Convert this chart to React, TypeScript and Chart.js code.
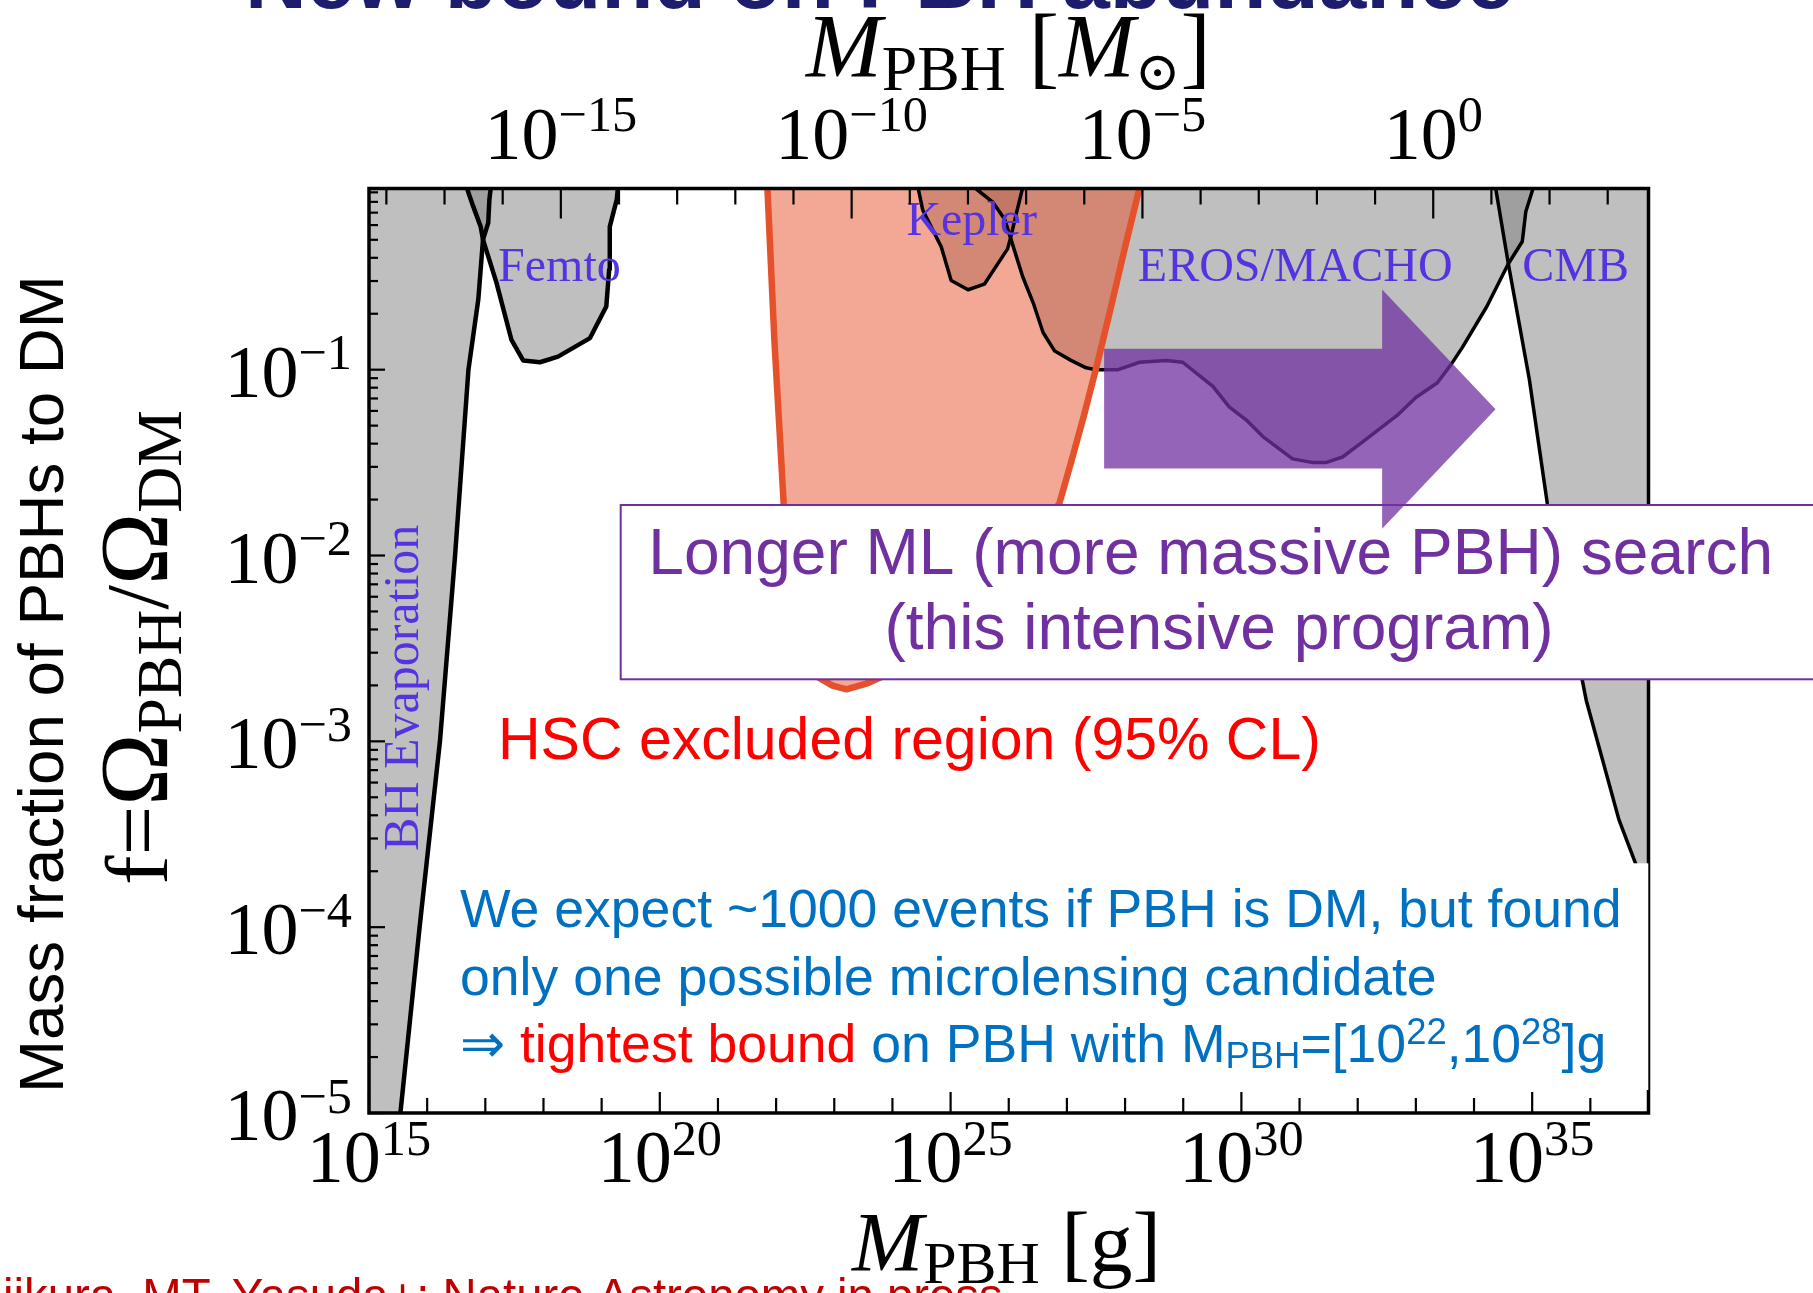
import React, { useEffect, useRef } from 'react';
import { Chart, registerables } from 'chart.js';

Chart.register(...registerables);

const W = 1813;
const H = 1293;

// ---- axis ranges (log10 of value) ----
const X_MIN = 15; // log10 M [g]
const X_MAX = 37;
const Y_MIN = -5; // log10 f
const Y_MAX = -0.025;
const SOLAR_MASS_G = 1.989e33;

// ---- tick labels ----
const bottomLabelExps = [15, 20, 25, 30, 35];
const topLabelExps = [-15, -10, -5, 0];
const leftLabelExps = [-5, -4, -3, -2, -1];

// ---- constraint curves: log10 M [g] and log10 f ----
const evapLogM = [14.5, 15.54, 15.87, 16.22, 16.48, 16.71, 16.88, 16.96, 17.05, 17.07, 17.09, 17.1];
const evapLogF = [-5.3, -5.0, -4.0, -3.0, -2.0, -1.0, -0.62, -0.3, -0.21, -0.085, -0.03, 0.05];

const femtoLogM = [16.66, 16.68, 16.79, 16.92, 16.96, 17.19, 17.45, 17.65, 17.94, 18.25, 18.8, 19.08, 19.13, 19.14, 19.26, 19.28, 19.29];
const femtoLogF = [0.05, -0.02, -0.12, -0.23, -0.3, -0.53, -0.84, -0.95, -0.96, -0.93, -0.83, -0.66, -0.46, -0.23, -0.085, -0.02, 0.05];

const keplerLogM = [24.43, 24.44, 24.52, 24.84, 25.01, 25.3, 25.58, 25.98, 26.04, 26.13, 26.24, 26.25];
const keplerLogF = [0.05, -0.02, -0.14, -0.34, -0.52, -0.57, -0.54, -0.35, -0.28, -0.16, -0.02, 0.05];

const erosLogM = [25.4, 25.41, 25.73, 25.93, 26.04, 26.24, 26.42, 26.59, 26.79, 27.07, 27.33, 27.5, 27.88, 28.25, 28.71, 28.99, 29.51, 29.79, 30.08, 30.37, 30.88, 31.23, 31.45, 31.74, 32.08, 32.37, 32.7, 33.0, 33.37, 33.61, 33.8, 34.22, 34.59, 34.83, 34.89, 35.02, 35.04];
const erosLogF = [0.05, -0.02, -0.1, -0.19, -0.3, -0.5, -0.64, -0.8, -0.9, -0.95, -0.99, -1.0, -1.0, -0.96, -0.95, -0.96, -1.09, -1.2, -1.27, -1.36, -1.48, -1.5, -1.5, -1.47, -1.39, -1.32, -1.24, -1.15, -1.07, -0.97, -0.88, -0.66, -0.43, -0.31, -0.15, -0.02, 0.05];

const cmbLogM = [34.36, 34.37, 34.59, 34.95, 35.26, 35.93, 36.49, 36.78, 37.3];
const cmbLogF = [0.05, -0.02, -0.43, -1.05, -1.72, -2.78, -3.42, -3.66, -3.95];

const hscLogM = [21.84, 21.85, 21.97, 22.13, 22.28, 22.45, 22.69, 22.97, 23.21, 23.55, 23.84, 24.3, 24.9, 25.6, 26.3, 26.87, 27.07, 27.29, 27.52, 27.76, 28.0, 28.25, 28.27];
const hscLogF = [0.05, -0.02, -0.84, -1.72, -2.2, -2.48, -2.65, -2.7, -2.72, -2.69, -2.65, -2.55, -2.4, -2.2, -1.95, -1.72, -1.5, -1.25, -0.97, -0.66, -0.34, -0.02, 0.05];

// region labels: text, log10 M, log10 f (left / baseline)
const regionLabelText = ['Femto', 'Kepler', 'EROS/MACHO', 'CMB'];
const regionLabelLogM = [17.22, 24.24, 28.22, 34.83];
const regionLabelLogF = [-0.525, -0.273, -0.525, -0.525];

// arrow in data coords (log10 M, log10 f)
const arrowLogM = [27.64, 32.42, 32.42, 34.37, 32.42, 32.42, 27.64];
const arrowLogF = [-0.887, -0.887, -0.568, -1.213, -1.856, -1.532, -1.532];

const SERIF = '"Liberation Serif", "DejaVu Serif", serif';
const SANS = '"Liberation Sans", Arial, sans-serif';
const LABEL_COLOR = '#5533e0';
const PURPLE = '#7030a0';
const RED = '#ff0000';
const BLUE = '#0070c0';
const GRAY_FILL = 'rgba(128,128,128,0.5)';

const pts = (lm: number[], lf: number[]) => lm.map((m, i) => ({ x: Math.pow(10, m), y: Math.pow(10, lf[i]) }));

type Seg = { t: string; s?: number; dy?: number; it?: boolean; c?: string };

function segFont(g: Seg, base: number, family: string, weight = '') {
  return `${g.it ? 'italic ' : ''}${weight ? weight + ' ' : ''}${(g.s ?? 1) * base}px ${family}`;
}
function rowWidth(ctx: CanvasRenderingContext2D, segs: Seg[], base: number, family: string, weight = '') {
  let w = 0;
  for (const g of segs) {
    ctx.font = segFont(g, base, family, weight);
    w += ctx.measureText(g.t).width;
  }
  return w;
}
function drawRow(ctx: CanvasRenderingContext2D, segs: Seg[], x: number, y: number, base: number, family: string, color: string, weight = '') {
  let cx = x;
  for (const g of segs) {
    ctx.font = segFont(g, base, family, weight);
    ctx.fillStyle = g.c ?? color;
    ctx.fillText(g.t, cx, y + (g.dy ?? 0) * base);
    cx += ctx.measureText(g.t).width;
  }
  return cx;
}
function fitBase(ctx: CanvasRenderingContext2D, segs: Seg[], family: string, target: number, weight = '') {
  return (100 * target) / rowWidth(ctx, segs, 100, family, weight);
}

function powSegs(e: number): Seg[] {
  const es = e < 0 ? '\u2212' + Math.abs(e) : String(e);
  return [{ t: '10' }, { t: es, s: 0.68, dy: -0.37 }];
}

const overlayPlugin = {
  id: 'overlay',
  afterDatasetsDraw(chart: any) {
    const ctx = chart.ctx as CanvasRenderingContext2D;
    const xs = chart.scales.x;
    const ys = chart.scales.y;
    const ca = chart.chartArea;
    const X = (lm: number) => xs.getPixelForValue(Math.pow(10, lm));
    const Y = (lf: number) => ys.getPixelForValue(Math.pow(10, lf));
    const line = (x1: number, y1: number, x2: number, y2: number) => {
      ctx.beginPath();
      ctx.moveTo(x1, y1);
      ctx.lineTo(x2, y2);
      ctx.stroke();
    };
    ctx.save();
    ctx.textBaseline = 'alphabetic';
    ctx.textAlign = 'left';

    // region labels
    ctx.fillStyle = LABEL_COLOR;
    ctx.font = `48px ${SERIF}`;
    regionLabelText.forEach((t, i) => ctx.fillText(t, X(regionLabelLogM[i]), Y(regionLabelLogF[i])));
    ctx.save();
    ctx.font = `50px ${SERIF}`;
    ctx.translate(X(15.84), Y(-3.59));
    ctx.rotate(-Math.PI / 2);
    ctx.fillText('BH Evaporation', 0, 0);
    ctx.restore();

    // spines
    ctx.strokeStyle = '#000';
    ctx.lineWidth = 3.5;
    ctx.strokeRect(ca.left, ca.top, ca.right - ca.left, ca.bottom - ca.top);

    // ticks
    ctx.lineWidth = 2.2;
    for (let e = X_MIN; e <= X_MAX; e++) {
      const x = X(e);
      line(x, ca.bottom, x, ca.bottom - (e % 5 === 0 ? 21 : 15));
    }
    const sunExp = Math.log10(SOLAR_MASS_G);
    for (let k = Math.ceil(X_MIN - sunExp); k + sunExp <= X_MAX; k++) {
      const x = X(k + sunExp);
      line(x, ca.top, x, ca.top + (k % 5 === 0 ? 30 : 16));
    }
    for (let d = Y_MIN; d < 0; d++) {
      for (let m = 1; m <= 9; m++) {
        const v = d + Math.log10(m);
        if (v > Y_MAX) break;
        const y = Y(v);
        line(ca.left, y, ca.left + (m === 1 ? 16 : 9), y);
      }
    }

    // tick labels
    const TB = 74;
    for (const e of bottomLabelExps) {
      const segs = powSegs(e);
      const w = rowWidth(ctx, segs, TB, SERIF);
      drawRow(ctx, segs, X(e) - w / 2, ca.bottom + 69, TB, SERIF, '#000');
    }
    for (const k of topLabelExps) {
      const segs = powSegs(k);
      const w = rowWidth(ctx, segs, TB, SERIF);
      drawRow(ctx, segs, X(k + sunExp) - w / 2, ca.top - 30, TB, SERIF, '#000');
    }
    for (const e of leftLabelExps) {
      const segs = powSegs(e);
      const w = rowWidth(ctx, segs, TB, SERIF);
      drawRow(ctx, segs, ca.left - 17 - w, Y(e) + 27, TB, SERIF, '#000');
    }

    // axis titles
    const topTitle: Seg[] = [{ t: 'M', it: true }, { t: 'PBH', s: 0.7, dy: 0.14 }, { t: ' [' }, { t: 'M', it: true }, { t: '\u2299', s: 0.6, dy: 0.14 }, { t: ']' }];
    let b = fitBase(ctx, topTitle, SERIF, 405);
    drawRow(ctx, topTitle, 806, 77, b, SERIF, '#000');
    const botTitle: Seg[] = [{ t: 'M', it: true }, { t: 'PBH', s: 0.7, dy: 0.14 }, { t: ' [' }, { t: 'g' }, { t: ']' }];
    b = fitBase(ctx, botTitle, SERIF, 309);
    drawRow(ctx, botTitle, 852, 1271, b, SERIF, '#000');
    const yMath: Seg[] = [{ t: 'f' }, { t: '=' }, { t: '\u03A9', s: 1.1 }, { t: 'PBH', s: 0.72, dy: 0.16 }, { t: '/' }, { t: '\u03A9', s: 1.1 }, { t: 'DM', s: 0.72, dy: 0.16 }];
    b = fitBase(ctx, yMath, SERIF, 475);
    ctx.save();
    ctx.translate(167, 885);
    ctx.rotate(-Math.PI / 2);
    drawRow(ctx, yMath, 0, 0, b, SERIF, '#000');
    ctx.restore();
    const yText: Seg[] = [{ t: 'Mass fraction of PBHs to DM' }];
    b = fitBase(ctx, yText, SANS, 818);
    ctx.save();
    ctx.translate(63, 1093);
    ctx.rotate(-Math.PI / 2);
    drawRow(ctx, yText, 0, 0, b, SANS, '#000');
    ctx.restore();

    // HSC text
    const hscText: Seg[] = [{ t: 'HSC excluded region (95% CL)' }];
    b = fitBase(ctx, hscText, SANS, 823);
    drawRow(ctx, hscText, 498, 758.6, b, SANS, RED);

    // blue box
    ctx.fillStyle = '#fff';
    ctx.fillRect(445, 863.3, 1648.3 - 445, 1090 - 863.3);
    const blue1: Seg[] = [{ t: 'We expect ~1000 events if PBH is DM, but found' }];
    const bb = fitBase(ctx, blue1, SANS, 1162);
    drawRow(ctx, blue1, 460, 927, bb, SANS, BLUE);
    drawRow(ctx, [{ t: 'only one possible microlensing candidate' }], 460, 995, bb, SANS, BLUE);
    const blue3: Seg[] = [
      { t: '\u21D2 ' },
      { t: 'tightest bound', c: RED },
      { t: ' on PBH with M' },
      { t: 'PBH', s: 0.68, dy: 0.12 },
      { t: '=[10' },
      { t: '22', s: 0.68, dy: -0.33 },
      { t: ',10' },
      { t: '28', s: 0.68, dy: -0.33 },
      { t: ']g' },
    ];
    drawRow(ctx, blue3, 460, 1062, bb, SANS, BLUE);

    // purple box
    ctx.fillStyle = '#fff';
    ctx.fillRect(620.7, 505, 1830 - 620.7, 679.3 - 505);
    ctx.strokeStyle = PURPLE;
    ctx.lineWidth = 2;
    ctx.strokeRect(620.7, 505, 1830 - 620.7, 679.3 - 505);
    const p1: Seg[] = [{ t: 'Longer ML (more massive PBH) search' }];
    const pb = fitBase(ctx, p1, SANS, 1125);
    drawRow(ctx, p1, 648.3, 574.3, pb, SANS, PURPLE);
    const p2: Seg[] = [{ t: '(this intensive program)' }];
    const w2 = rowWidth(ctx, p2, pb, SANS);
    drawRow(ctx, p2, 1219 - w2 / 2, 649.4, pb, SANS, PURPLE);

    // arrow
    ctx.fillStyle = 'rgba(112,48,160,0.75)';
    ctx.beginPath();
    arrowLogM.forEach((m, i) => {
      const px = X(m);
      const py = Y(arrowLogF[i]);
      if (i === 0) ctx.moveTo(px, py);
      else ctx.lineTo(px, py);
    });
    ctx.closePath();
    ctx.fill();

    // slide title (cut at top)
    const title: Seg[] = [{ t: 'New bound on PBH abundance' }];
    b = fitBase(ctx, title, SANS, 1269, 'bold');
    drawRow(ctx, title, 245, 7.5, b, SANS, '#1d1d6e', 'bold');

    // citation (cut at bottom)
    const cite = 'iikura, MT, Yasuda+: Nature Astronomy in press';
    const cb = fitBase(ctx, [{ t: cite }], SANS, 1000);
    ctx.font = `${cb}px ${SANS}`;
    ctx.fillStyle = '#c00000';
    const nW = ctx.measureText('N').width;
    ctx.fillText('N' + cite, 3 - nW, 1278 + 0.716 * cb);

    ctx.restore();
  },
};

function grayDataset(label: string, lm: number[], lf: number[], bw: number, order: number) {
  return {
    label,
    data: pts(lm, lf),
    borderColor: '#000',
    borderWidth: bw,
    backgroundColor: GRAY_FILL,
    fill: 'end',
    pointRadius: 0,
    tension: 0,
    borderJoinStyle: 'round',
    order,
    clip: 0,
  };
}

export default function App() {
  const ref = useRef<HTMLCanvasElement>(null);
  useEffect(() => {
    const chart = new Chart(ref.current as HTMLCanvasElement, {
      type: 'line',
      data: {
        datasets: [
          {
            label: 'HSC',
            data: pts(hscLogM, hscLogF),
            borderColor: '#e5512a',
            borderWidth: 6.5,
            backgroundColor: 'rgba(229,81,41,0.5)',
            fill: 'end',
            pointRadius: 0,
            tension: 0,
            borderJoinStyle: 'round',
            order: 0,
            clip: 0,
          },
          grayDataset('BH Evaporation', evapLogM, evapLogF, 4.5, 1),
          grayDataset('Femto', femtoLogM, femtoLogF, 4.5, 2),
          grayDataset('Kepler', keplerLogM, keplerLogF, 3.5, 3),
          grayDataset('EROS/MACHO', erosLogM, erosLogF, 3.5, 4),
          grayDataset('CMB', cmbLogM, cmbLogF, 3.5, 5),
        ],
      } as any,
      options: {
        responsive: false,
        animation: false,
        devicePixelRatio: 1,
        events: [],
        layout: { padding: { left: 369, top: 188.5, right: W - 1648.5, bottom: H - 1113 } },
        scales: {
          x: { type: 'logarithmic', min: Math.pow(10, X_MIN), max: Math.pow(10, X_MAX), display: false },
          y: { type: 'logarithmic', min: Math.pow(10, Y_MIN), max: Math.pow(10, Y_MAX), display: false },
        },
        plugins: {
          legend: { display: false },
          tooltip: { enabled: false },
          filler: { drawTime: 'beforeDatasetsDraw' },
        },
      } as any,
      plugins: [overlayPlugin],
    });
    return () => chart.destroy();
  }, []);
  return (
    <div style={{ position: 'fixed', left: 0, top: 0, width: W, height: H, background: '#fff' }}>
      <canvas ref={ref} width={W} height={H} style={{ display: 'block', width: W, height: H }} />
    </div>
  );
}
